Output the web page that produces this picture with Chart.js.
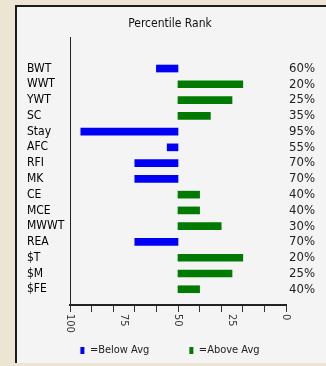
<!DOCTYPE html>
<html><head><meta charset="utf-8">
<script src="https://cdn.jsdelivr.net/npm/chart.js@4/dist/chart.umd.min.js"></script>
<style>
html,body{margin:0;padding:0;width:326px;height:366px;overflow:hidden;background:#ece5d3;}
#panel{position:absolute;left:15px;top:5px;width:330px;height:358px;background:#f4f4f4;border-left:2px solid #1c1c1c;border-top:2px solid #1c1c1c;box-sizing:border-box;}
canvas{position:absolute;left:0;top:0;}
</style></head><body>
<div id="panel"></div>
<canvas id="c" width="326" height="366"></canvas>
<script>
const categories = ['BWT','WWT','YWT','SC','Stay','AFC','RFI','MK','CE','MCE','MWWT','REA','$T','$M','$FE'];
const percentiles = [60,20,25,35,95,55,70,70,40,40,30,70,20,25,40];
const percentLabels = ['60%','20%','25%','35%','95%','55%','70%','70%','40%','40%','30%','70%','20%','25%','40%'];
const xTickLabels = [100,75,50,25,0];
const seriesNames = ['=Below Avg','=Above Avg'];
const average = 50;

const FONT = "'DejaVu Sans Condensed','Liberation Sans Narrow','Liberation Sans',sans-serif";
Chart.defaults.font.family = FONT;

const belowData = [], aboveData = [];
percentiles.forEach((v, i) => {
  (v > average ? belowData : aboveData).push({ x: [average, v], y: i });
});

const xLabelPlugin = {
  id: 'xLabels',
  afterDraw(chart) {
    const s = chart.scales.x, ctx = chart.ctx;
    ctx.save();
    ctx.font = '11px ' + FONT;
    ctx.fillStyle = '#3a3a3a';
    ctx.textAlign = 'left';
    ctx.textBaseline = 'middle';
    s.ticks.forEach(t => {
      if (!t.label) return;
      const x = s.getPixelForValue(t.value);
      ctx.save();
      ctx.translate(x, s.top + 9);
      ctx.rotate(Math.PI / 2);
      ctx.fillText(t.label, 0, 0);
      ctx.restore();
    });
    ctx.restore();
  }
};

new Chart(document.getElementById('c'), {
  type: 'bar',
  data: {
    datasets: [
      { label: seriesNames[0], data: belowData, xAxisID: 'x', yAxisID: 'y', backgroundColor: '#0000f4', borderWidth: 0, barThickness: 7, grouped: false },
      { label: seriesNames[1], data: aboveData, xAxisID: 'x', yAxisID: 'y', backgroundColor: '#007a00', borderWidth: 0, barThickness: 7, grouped: false }
    ]
  },
  options: {
    indexAxis: 'y',
    responsive: false,
    animation: false,
    devicePixelRatio: 1,
    layout: { padding: { left: 14, right: 0, top: 0, bottom: 0 } },
    scales: {
      x: {
        type: 'linear', min: 0, max: 100, reverse: true, position: 'bottom',
        grid: { drawOnChartArea: false, drawTicks: true, tickLength: 7,
          tickColor: c => (c.tick && c.tick.value % 10 === 0) ? '#333' : 'rgba(0,0,0,0)', tickWidth: 1 },
        border: { color: '#222', width: 2 },
        ticks: { stepSize: 5, autoSkip: false, maxRotation: 0, minRotation: 0, color: 'rgba(0,0,0,0)',
          callback: v => xTickLabels.includes(v) ? String(v) : '' },
        afterFit: s => { s.height = 0; }
      },
      y: {
        type: 'linear', min: -2, max: 15, reverse: true, position: 'left', offset: false, weight: 0,
        grid: { drawOnChartArea: false, drawTicks: false, offset: false },
        border: { color: '#222', width: 1 },
        ticks: { stepSize: 1, autoSkip: false, crossAlign: 'far', color: '#000', font: { size: 12 },
          callback: v => categories[v] ?? '' },
        afterFit: s => { s.width = 43; }
      },
      yPad: {
        type: 'linear', position: 'left', weight: 5, display: true,
        grid: { display: false }, border: { display: false }, ticks: { display: false },
        afterFit: s => { s.width = 13; }
      },
      y2: {
        type: 'linear', min: -2, max: 15, reverse: true, position: 'right', offset: false,
        grid: { display: false, drawTicks: false, tickLength: 0 }, border: { display: false },
        ticks: { stepSize: 1, autoSkip: false, padding: 3, color: '#222', font: { size: 13 },
          callback: v => percentLabels[v] ?? '' },
        afterFit: s => { s.width = 40; }
      }
    },
    plugins: {
      title: { display: true, text: 'Percentile Rank', color: '#111', font: { size: 12, weight: 'normal' },
        padding: { top: 17, bottom: 5.6 } },
      legend: { position: 'bottom',
        labels: { boxWidth: 4, boxHeight: 7, padding: 40, color: '#222', font: { size: 11 } } },
      tooltip: { enabled: false }
    }
  },
  plugins: [xLabelPlugin]
});
</script>
</body></html>
